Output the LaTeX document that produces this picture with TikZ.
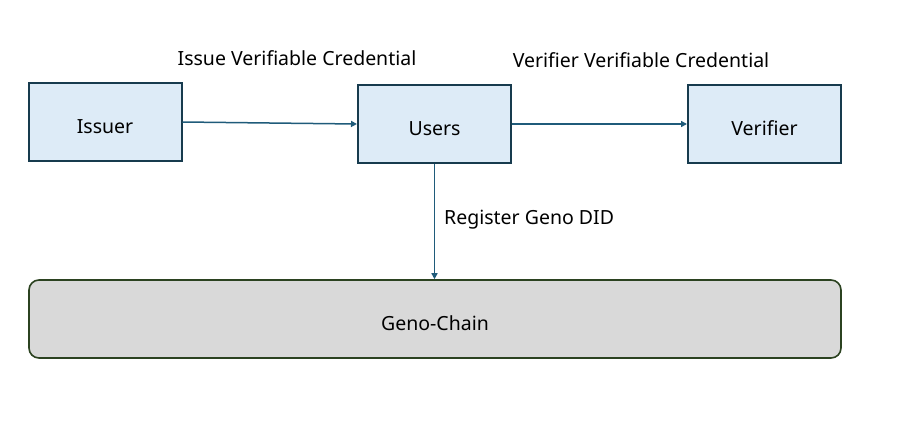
\documentclass[tikz,border=0pt]{standalone}
\usepackage{fontspec}
\setmainfont{Noto Sans}
\usetikzlibrary{arrows.meta}
\definecolor{boxfill}{HTML}{DDEBF7}
\definecolor{boxdraw}{HTML}{173B4E}
\definecolor{arrowc}{HTML}{1F5B7A}
\definecolor{chainfill}{HTML}{D9D9D9}
\definecolor{chaindraw}{HTML}{2B4220}
\tikzset{
  txt/.style={font=\fontsize{19.5}{23}\selectfont},
  entity/.style={txt, draw=boxdraw, fill=boxfill, line width=2pt, minimum width=153pt, minimum height=78pt, inner sep=0pt, text height=22pt, text depth=0pt},
  chain/.style={txt, draw=chaindraw, fill=chainfill, line width=1.6pt, rounded corners=10pt, minimum width=812pt, minimum height=78pt, inner sep=0pt, text height=22pt, text depth=0pt},
  conn/.style={draw=arrowc, line width=1.5pt, -{Triangle[length=6pt,width=6pt]}},
  lbl/.style={txt, inner sep=0pt}
}
\begin{document}
\begin{tikzpicture}[x=1pt,y=-1pt]
\useasboundingbox (0,0) rectangle (922,429);
\node[entity] (issuer) at (105,122) {Issuer};
\node[entity] (users) at (434.5,124) {Users};
\node[entity] (verifier) at (764.5,124) {Verifier};
\node[chain] (chain) at (435,319) {Geno-Chain};
\draw[conn] (issuer.east) -- (users.west);
\draw[conn] (users.east) -- (verifier.west);
\draw[conn] (users.south) -- (chain.north -| users.south);
\node[lbl] (l1) at (297,58) {Issue Verifiable Credential};
\node[lbl] (l2) at (641,60) {Verifier Verifiable Credential};
\node[lbl, anchor=west] (l3) at (444,220) {Register Geno DID};
\end{tikzpicture}
\end{document}
